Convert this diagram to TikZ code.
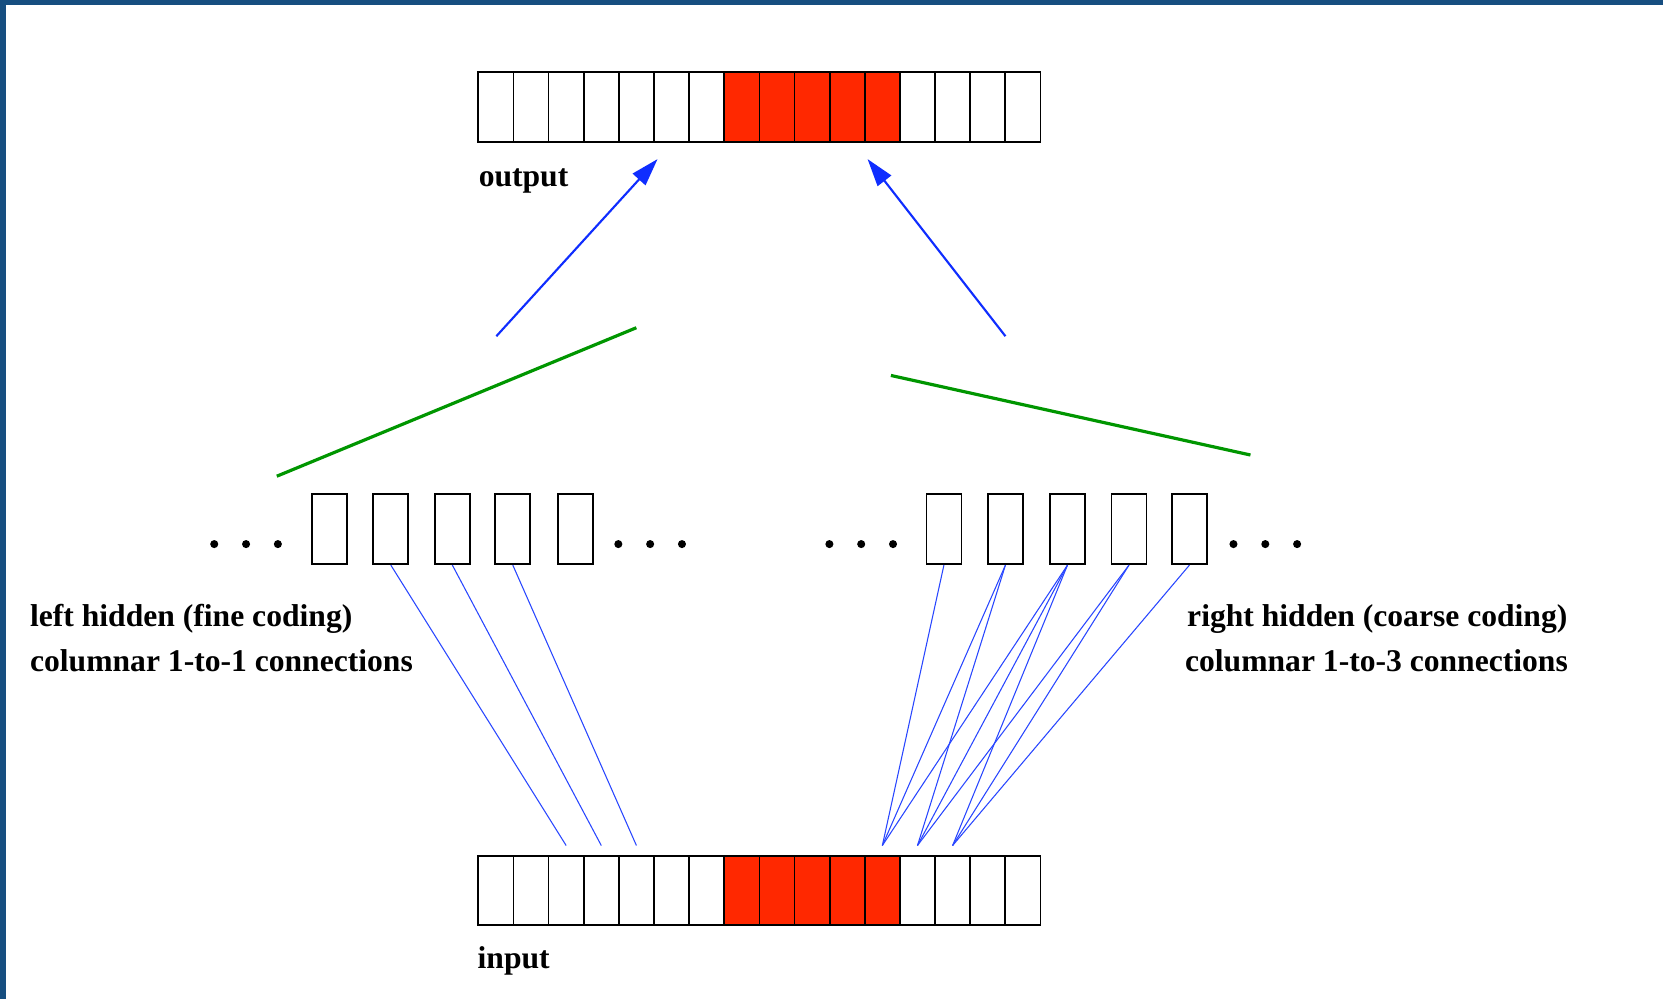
\documentclass[tikz,border=0pt]{standalone}
\usepackage{fontspec}
\setmainfont{Liberation Serif}
\usetikzlibrary{arrows.meta,calc}
\definecolor{cellred}{RGB}{255,40,0}
\definecolor{arrblue}{RGB}{15,45,255}
\definecolor{lineblue}{RGB}{40,70,255}
\definecolor{hidgreen}{RGB}{0,150,0}
\definecolor{frameblue}{RGB}{22,78,128}
\begin{document}
\begin{tikzpicture}[x=0.5pt,y=-0.5pt,
 cell/.style={draw=black,line width=0.8pt,rectangle,inner sep=0pt,minimum width=16.56pt,minimum height=33pt,fill=white},
 redcell/.style={cell,fill=cellred},
 hid/.style={draw=black,line width=0.8pt,rectangle,inner sep=0pt,minimum width=16.5pt,minimum height=33pt},
 dotnode/.style={circle,fill=black,inner sep=0pt,minimum size=3.8pt},
 lbl/.style={font=\bfseries\fontsize{14.9}{18}\selectfont,inner sep=0pt,anchor=base west},
 conn/.style={draw=lineblue,line width=0.5pt},
 bigarrow/.style={draw=arrblue,line width=1pt,-{Triangle[length=13pt,width=8pt,fill=arrblue]}},
 greenline/.style={draw=hidgreen,line width=1.5pt}]
\useasboundingbox (0,0) rectangle (1568,942);
\fill[white] (0,0) rectangle (1568,942);
\fill[frameblue] (0,0) rectangle (1568,5);
\fill[frameblue] (0,0) rectangle (6,942);
% output and input arrays
\foreach \k/\s in {1/cell,2/cell,3/cell,4/cell,5/cell,6/cell,7/cell,8/redcell,9/redcell,10/redcell,11/redcell,12/redcell,13/cell,14/cell,15/cell,16/cell} {
  \node[\s] (o\k) at ({451+(\k-0.5)*33.125},101) {};
  \node[\s,minimum height=32.5pt] (i\k) at ({451+(\k-0.5)*33.125},839.5) {};
}
% hidden units
\foreach \k/\x in {1/310.5,2/368.5,3/426.5,4/483.5,5/542.5} \node[hid] (hl\k) at (\x,499) {};
\foreach \k/\x in {1/890,2/948,3/1006.5,4/1064.5,5/1121.5} \node[hid] (hr\k) at (\x,499) {};
% dots
\foreach \x [count=\k] in {202,232,262} \node[dotnode] (dla\k) at (\x,513) {};
\foreach \x [count=\k] in {583,613,643} \node[dotnode] (dlb\k) at (\x,513) {};
\foreach \x [count=\k] in {782,812,842} \node[dotnode] (dra\k) at (\x,513) {};
\foreach \x [count=\k] in {1163,1193,1223} \node[dotnode] (drb\k) at (\x,513) {};
% connections left (1-to-1)
\draw[conn] (hl2.south) -- ($(i3.north)+(0,-9)$);
\draw[conn] (hl3.south) -- ($(i4.north)+(0,-9)$);
\draw[conn] (hl4.south) -- ($(i5.north)+(0,-9)$);
% connections right (1-to-3)
\draw[conn] (hr1.south) -- ($(i12.north)+(0,-9)$);
\draw[conn] (hr2.south) -- ($(i12.north)+(0,-9)$);
\draw[conn] (hr2.south) -- ($(i13.north)+(0,-9)$);
\draw[conn] (hr3.south) -- ($(i12.north)+(0,-9)$);
\draw[conn] (hr3.south) -- ($(i13.north)+(0,-9)$);
\draw[conn] (hr3.south) -- ($(i14.north)+(0,-9)$);
\draw[conn] (hr4.south) -- ($(i13.north)+(0,-9)$);
\draw[conn] (hr4.south) -- ($(i14.north)+(0,-9)$);
\draw[conn] (hr5.south) -- ($(i14.north)+(0,-9)$);
% green lines
\coordinate (gl1) at (261,449);
\coordinate (gl2) at (600,309);
\coordinate (gr1) at (840,354);
\coordinate (gr2) at (1179,429);
\draw[greenline] (gl1) -- (gl2);
\draw[greenline] (gr1) -- (gr2);
% blue arrows
\coordinate (al1) at (468,317);
\coordinate (al2) at (620,150);
\coordinate (ar1) at (948,317);
\coordinate (ar2) at (818,150);
\draw[bigarrow] (al1) -- (al2);
\draw[bigarrow] (ar1) -- (ar2);
% labels
\node[lbl] (outlbl) at (451,176) {output};
\node[lbl] (inlbl) at (450,913) {input};
\node[lbl] (lh1) at (28,591) {left hidden (fine coding)};
\node[lbl] (lh2) at (28,633) {columnar 1-to-1 connections};
\node[lbl] (rh1) at (1119,591) {right hidden (coarse coding)};
\node[lbl] (rh2) at (1117,633) {columnar 1-to-3 connections};
\end{tikzpicture}
\end{document}
